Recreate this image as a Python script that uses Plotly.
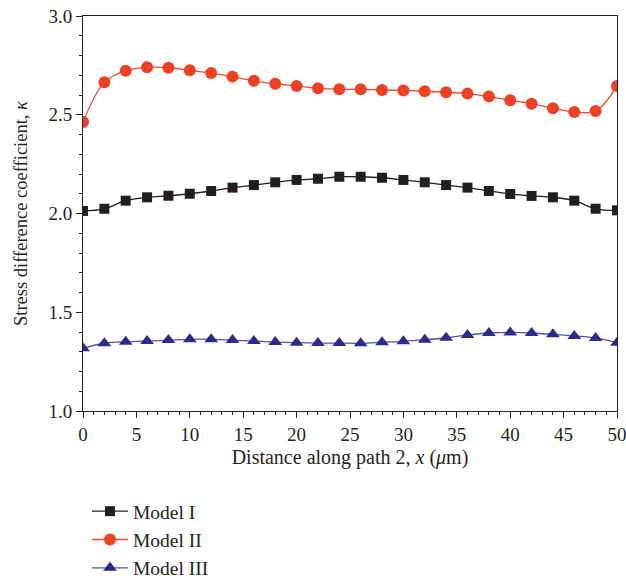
import plotly.graph_objects as go

x_vals = list(range(0, 51, 2))
model_1 = [2.013, 2.024, 2.065, 2.082, 2.090, 2.100, 2.114, 2.131, 2.144, 2.158, 2.170, 2.176, 2.186,
           2.186, 2.181, 2.170, 2.158, 2.144, 2.131, 2.114, 2.099, 2.089, 2.082, 2.065, 2.024, 2.016]
model_2 = [2.463, 2.664, 2.723, 2.740, 2.738, 2.725, 2.711, 2.693, 2.672, 2.657, 2.646, 2.634, 2.629,
           2.629, 2.625, 2.623, 2.619, 2.614, 2.607, 2.592, 2.573, 2.556, 2.533, 2.514, 2.519, 2.646]
model_3 = [1.318, 1.343, 1.351, 1.354, 1.359, 1.363, 1.363, 1.359, 1.354, 1.349, 1.346, 1.344, 1.344,
           1.343, 1.348, 1.353, 1.361, 1.371, 1.385, 1.395, 1.398, 1.395, 1.388, 1.380, 1.370, 1.346]
names = ["Model I", "Model II", "Model III"]

FONT = "Liberation Serif"
FS = 19

fig = go.Figure()
fig.add_trace(go.Scatter(x=x_vals, y=model_1, name=names[0], mode="lines+markers",
                         line=dict(color="#231f20", width=1.3, shape="spline"),
                         marker=dict(symbol="square", size=10, color="#231f20")))
fig.add_trace(go.Scatter(x=x_vals, y=model_2, name=names[1], mode="lines+markers",
                         line=dict(color="#ef4a32", width=1.3, shape="spline"),
                         marker=dict(symbol="circle", size=12, color="#ef4024")))
fig.add_trace(go.Scatter(x=x_vals, y=model_3, name=names[2], mode="lines+markers",
                         line=dict(color="#5550a8", width=1.3, shape="spline"),
                         marker=dict(symbol="triangle-up", size=12, color="#2e2a8c")))

fig.update_layout(
    width=626, height=582,
    margin=dict(l=83, r=9, t=16, b=171, autoexpand=False),
    paper_bgcolor="white", plot_bgcolor="white",
    font=dict(family=FONT, size=FS, color="#231f20"),
    showlegend=True,
    legend=dict(x=0.0075, y=-0.205, xanchor="left", yanchor="top",
                font=dict(family=FONT, size=19.5, color="#231f20"),
                bgcolor="rgba(0,0,0,0)", tracegroupgap=0, itemwidth=36),
    xaxis=dict(range=[0, 50], tick0=0, dtick=5, ticks="outside", ticklen=6, tickwidth=1,
               tickcolor="#231f20", showline=True, mirror=True, linecolor="#231f20", linewidth=1,
               showgrid=False, zeroline=False, ticklabeloverflow="allow",
               minor=dict(ticks="outside", dtick=1, ticklen=3, tickcolor="#231f20", showgrid=False),
               title=dict(text="Distance along path 2, <i>x</i> (<i>μ</i>m)", standoff=6,
                          font=dict(family=FONT, size=FS + 1)),
               tickfont=dict(family=FONT, size=FS)),
    yaxis=dict(range=[1.0, 3.0], tick0=1.0, dtick=0.5, tickformat=".1f", ticks="outside",
               ticklen=6, tickwidth=1, tickcolor="#231f20", showline=True, mirror=True,
               linecolor="#231f20", linewidth=1, showgrid=False, zeroline=False,
               ticklabeloverflow="allow",
               minor=dict(ticks="outside", dtick=0.1, ticklen=3, tickcolor="#231f20", showgrid=False),
               title=dict(text="Stress difference coefficient, <i>κ</i>", standoff=15,
                          font=dict(family=FONT, size=18.5)),
               tickfont=dict(family=FONT, size=FS)),
)

fig.write_html("out.html")
